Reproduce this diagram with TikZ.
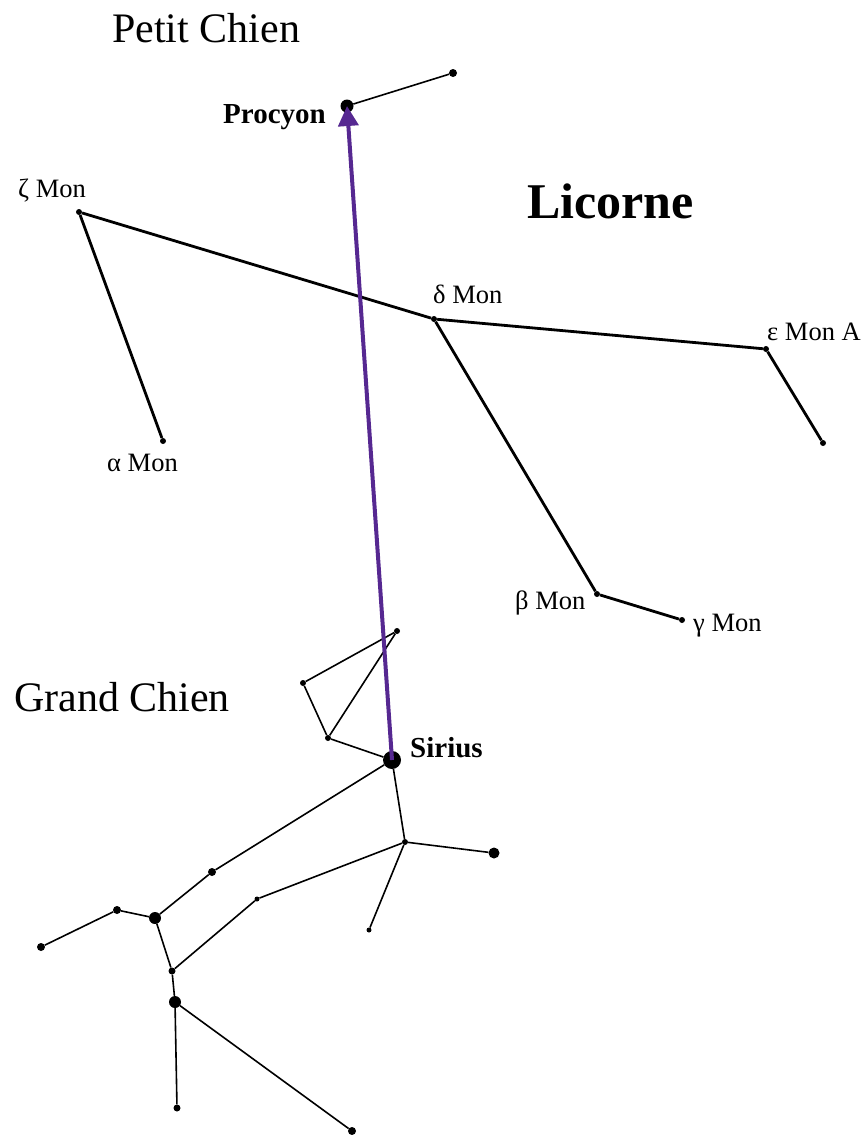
\documentclass[tikz,border=0pt]{standalone}
\usepackage{fontspec}
\setmainfont{Liberation Serif}
\usetikzlibrary{arrows.meta}
\definecolor{arrowpurple}{RGB}{86,40,145}
\begin{document}
\begin{tikzpicture}[x=1pt,y=-1pt,
  stardot/.style={circle,fill=black,inner sep=0pt,minimum size=#1},
  lic/.style={line width=2.8pt},
  cma/.style={line width=1.6pt},
  lbl/.style={anchor=base west,inner sep=0pt,font=\fontsize{26.5}{31}\selectfont},
  blbl/.style={inner sep=0pt,font=\fontsize{29}{34}\selectfont\bfseries},
  ttl/.style={anchor=base west,inner sep=0pt,font=\fontsize{42}{48}\selectfont}]
\useasboundingbox (0,0) rectangle (867,1135);
% Petit Chien
\node[stardot=13pt] (procyon) at (347,106) {};
\node[stardot=8pt] (gmi) at (453,73) {};
% Licorne
\node[stardot=6pt] (zeta) at (79,212) {};
\node[stardot=6pt] (alpha) at (163,441) {};
\node[stardot=6pt] (delta) at (434,319) {};
\node[stardot=6pt] (eps) at (766,349) {};
\node[stardot=6pt] (eend) at (823,443) {};
\node[stardot=6pt] (beta) at (597,594) {};
\node[stardot=6pt] (gamma) at (682,620) {};
% Grand Chien
\node[stardot=18pt] (sirius) at (392,760) {};
\node[stardot=6pt] (c1) at (397,631) {};
\node[stardot=6pt] (c2) at (303,683) {};
\node[stardot=6pt] (c3) at (328,738) {};
\node[stardot=6pt] (c4) at (405,842) {};
\node[stardot=11pt] (c5) at (494,853) {};
\node[stardot=5pt] (c6) at (369,930) {};
\node[stardot=5pt] (c7) at (257,899) {};
\node[stardot=8pt] (c8) at (212,872) {};
\node[stardot=12pt] (c9) at (155,918) {};
\node[stardot=8pt] (c10) at (117,910) {};
\node[stardot=8pt] (c11) at (41,947) {};
\node[stardot=7pt] (c12) at (172,971) {};
\node[stardot=12pt] (c13) at (175,1002) {};
\node[stardot=7pt] (c14) at (177,1108) {};
\node[stardot=8pt] (c15) at (352,1131) {};
% lines
\draw[cma] (procyon) -- (gmi);
\draw[lic] (alpha) -- (zeta) -- (delta) -- (eps) -- (eend);
\draw[lic] (delta) -- (beta) -- (gamma);
\draw[cma] (c1) -- (c2) -- (c3) -- (c1);
\draw[cma] (c3) -- (sirius) -- (c4) -- (c5);
\draw[cma] (c4) -- (c6);
\draw[cma] (c4) -- (c7) -- (c12);
\draw[cma] (sirius) -- (c8) -- (c9) -- (c10) -- (c11);
\draw[cma] (c9) -- (c12) -- (c13) -- (c14);
\draw[cma] (c13) -- (c15);
% arrow
\draw[line width=4pt,arrowpurple,-{Triangle[length=20pt,width=20pt]}] (sirius.center) -- (procyon.center);
% labels
\node[ttl] (tpc) at (112,42) {Petit Chien};
\node[ttl] (tgc) at (14,711) {Grand Chien};
\node[anchor=base west,inner sep=0pt,font=\fontsize{50}{58}\selectfont\bfseries] (tlic) at (527,218) {Licorne};
\node[blbl,anchor=base east] (lproc) at (326,123) {Procyon};
\node[blbl,anchor=base west] (lsir) at (410,757) {Sirius};
\node[lbl] (lzeta) at (18,197) {ζ Mon};
\node[lbl] (lalpha) at (107,471) {α Mon};
\node[lbl] (ldelta) at (433,303) {δ Mon};
\node[lbl] (leps) at (767,340) {ε Mon A};
\node[lbl] (lbeta) at (515,609) {β Mon};
\node[lbl] (lgamma) at (693,631) {γ Mon};
\end{tikzpicture}
\end{document}
